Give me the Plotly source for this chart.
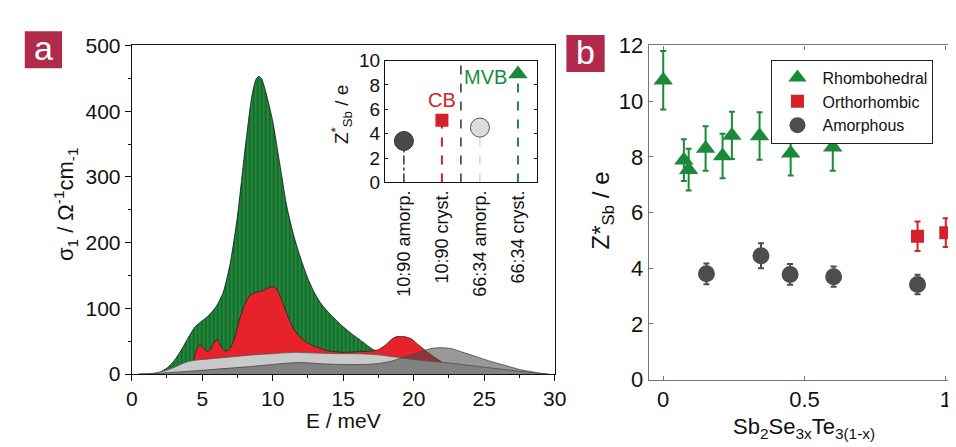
import plotly.graph_objects as go

W, H = 956, 447
FONT = "Liberation Sans, Arial, sans-serif"

# ---------------- Panel a: optical conductivity spectra ----------------
E_green = [1.0, 1.5, 2.0, 2.5, 3.0, 3.5, 4.0, 4.5, 5.0, 5.5, 6.0, 6.5, 7.0, 7.5, 8.0, 8.5, 8.8, 9.0,
           9.2, 9.5, 10.0, 10.5, 11.0, 11.5, 12.0, 12.5, 13.0, 13.5, 14.0, 14.5, 15.0, 15.5, 16.0,
           16.5, 17.0, 17.5, 18.0, 19.0, 20.0, 21.0, 22.0, 24.0, 26.0, 28.0]
s_green = [0, 0.5, 3, 9, 20, 36, 55, 72, 81, 90, 103, 125, 170, 240, 335, 420, 448, 453,
           450, 430, 385, 320, 255, 210, 175, 145, 122, 105, 93, 82, 72, 63, 55,
           47, 39, 33, 28, 22, 18, 14, 10, 5, 2, 0]

E_red = [4.2, 4.4, 4.65, 4.85, 5.05, 5.3, 5.55, 5.8, 6.05, 6.25, 6.45, 6.7, 7.0, 7.3, 7.6, 8.0,
         8.4, 8.8, 9.3, 9.7, 10.0, 10.3, 10.6, 11.0, 11.5, 12.0, 12.5, 13.0, 13.5, 14.0, 15.0,
         16.0, 17.0, 17.5, 18.0, 18.5, 18.8, 19.3, 19.8, 20.2, 20.6, 21.0, 21.5, 22.0, 22.4]
s_red = [0, 22, 40, 44, 40, 35, 36, 47, 53, 46, 38, 35, 40, 55, 80, 105,
         120, 124, 127, 131, 133, 129, 115, 92, 68, 55, 47, 42, 38, 35, 33,
         34, 35, 37, 44, 54, 57, 57, 54, 47, 40, 33, 25, 18, 0]

E_lgray = [0.5, 1.0, 1.5, 2.0, 2.5, 3.0, 3.5, 4.0, 4.5, 5.5, 7.0, 8.5, 10.0, 11.5, 13.0, 14.5,
           16.0, 17.0, 18.0, 19.0, 20.0, 21.0, 22.0, 23.0, 24.0, 25.0, 26.0, 27.0, 28.0, 29.0, 29.5]
s_lgray = [0, 0.3, 1, 3, 6, 10, 15, 19, 21, 23, 26, 29, 31, 33, 32, 31,
           31, 30, 28, 25, 22, 20, 18, 15.5, 13, 10.5, 8, 5.5, 3, 1, 0]

E_dgray = [0.5, 1.5, 2.5, 4.0, 5.5, 7.0, 8.5, 10.0, 11.0, 11.8, 12.5, 13.5, 15.0, 16.5, 17.5,
           18.5, 19.5, 20.5, 21.3, 22.0, 22.7, 23.5, 24.5, 25.5, 26.5, 27.5, 28.5, 29.2, 29.6]
s_dgray = [0, 0.5, 2, 4, 6.5, 9, 11.5, 14.5, 16.5, 17.5, 17, 15.5, 14.5, 14.5, 16,
           20, 27, 34, 39, 40, 38.5, 33, 26, 19, 13, 7, 3, 0.5, 0]

# ---------------- Inset: Born effective charge ----------------
inset_cats = ["10:90 amorp.", "10:90 cryst.", "66:34 amorp.", "66:34 cryst."]
inset_vals = [3.4, 5.1, 4.5, 8.9]

# ---------------- Panel b: Z* vs composition ----------------
x_rh = [0.0, 0.073, 0.09, 0.15, 0.21, 0.243, 0.341, 0.451, 0.60]
z_rh = [10.75, 7.88, 7.54, 8.3, 8.03, 8.77, 8.75, 8.13, 8.35]
e_rh = [1.05, 0.75, 0.75, 0.8, 0.8, 0.85, 0.85, 0.8, 0.85]

x_or = [0.90, 1.0]
z_or = [5.15, 5.28]
e_or = [0.53, 0.52]

x_am = [0.153, 0.346, 0.449, 0.603, 0.90]
z_am = [3.8, 4.45, 3.78, 3.7, 3.42]
e_am = [0.37, 0.45, 0.37, 0.36, 0.35]

fig = go.Figure()

common_a = dict(xaxis="x", yaxis="y", mode="lines", showlegend=False, hoverinfo="skip",
                line_shape="spline")
fig.add_trace(go.Scatter(x=E_green, y=s_green, fill="tozeroy", **common_a,
                         line=dict(color="#111", width=0.8, smoothing=0.6),
                         fillcolor="#1f8a3a",
                         fillpattern=dict(shape="|", size=4, solidity=0.3,
                                          fgcolor="#0a1f0e", bgcolor="#1f8a3a")))
fig.add_trace(go.Scatter(x=E_red, y=s_red, fill="tozeroy", **common_a,
                         line=dict(color="#222", width=0.8, smoothing=0.5),
                         fillcolor="#e8222a"))
fig.add_trace(go.Scatter(x=E_lgray, y=s_lgray, fill="tozeroy", **common_a,
                         line=dict(color="#555", width=0.8, smoothing=0.6),
                         fillcolor="#c9c9c9"))
fig.add_trace(go.Scatter(x=E_dgray, y=s_dgray, fill="tozeroy", **common_a,
                         line=dict(color="#444", width=0.8, smoothing=0.6),
                         fillcolor="rgba(70,70,70,0.55)"))

# inset stems
stem_styles = [dict(color="#333", width=1.5, dash="dashdot"),
               dict(color="#d42027", width=2, dash="dash"),
               dict(color="#d8b8b8", width=1, dash="dash"),
               dict(color="#1a8a3a", width=2, dash="dash")]
for i, (c, v) in enumerate(zip(inset_cats, inset_vals)):
    fig.add_trace(go.Scatter(x=[i, i], y=[0, v], xaxis="x2", yaxis="y2", mode="lines",
                             line=stem_styles[i], showlegend=False, hoverinfo="skip"))
inset_markers = [dict(symbol="circle", size=19, color="#4a4a4a", line=dict(color="#333", width=1)),
                 dict(symbol="square", size=13, color="#d42027", line=dict(width=0)),
                 dict(symbol="circle", size=19, color="#dcdcdc", line=dict(color="#555", width=1)),
                 dict(symbol="triangle-up", size=17, color="#1a8a3a", line=dict(width=0))]
for i, v in enumerate(inset_vals):
    fig.add_trace(go.Scatter(x=[i], y=[v], xaxis="x2", yaxis="y2", mode="markers",
                             marker=inset_markers[i], showlegend=False, hoverinfo="skip"))

# panel b
fig.add_trace(go.Scatter(x=x_rh, y=z_rh, xaxis="x3", yaxis="y3", mode="markers", name="Rhombohedral",
                         marker=dict(symbol="triangle-up", size=17, color="#1a8a3a"),
                         error_y=dict(type="data", array=e_rh, color="#1a8a3a", thickness=2, width=3)))
fig.add_trace(go.Scatter(x=x_or, y=z_or, xaxis="x3", yaxis="y3", mode="markers", name="Orthorhombic",
                         marker=dict(symbol="square", size=13, color="#d42027"),
                         error_y=dict(type="data", array=e_or, color="#d42027", thickness=2, width=3)))
fig.add_trace(go.Scatter(x=x_am, y=z_am, xaxis="x3", yaxis="y3", mode="markers", name="Amorphous",
                         marker=dict(symbol="circle", size=17, color="#4d4d4d"),
                         error_y=dict(type="data", array=e_am, color="#4d4d4d", thickness=2, width=3)))

def px(x):
    return x / W

def py(y):
    return (H - y) / H

tickfont_a = dict(family=FONT, size=21, color="#111")
fig.update_layout(
    width=W, height=H, margin=dict(l=0, r=0, t=0, b=0),
    paper_bgcolor="white", plot_bgcolor="rgba(0,0,0,0)",
    font=dict(family=FONT, color="#111"),
    xaxis=dict(domain=[px(120), px(551)], range=[0, 30], dtick=5, ticks="outside", ticklen=6,
               tickcolor="#111", showline=True, linecolor="#111", linewidth=1, mirror=True,
               showgrid=False, zeroline=False, tickfont=tickfont_a,
               minor=dict(dtick=2.5, ticks="outside", ticklen=3, tickcolor="#111"),
               anchor="y"),
    yaxis=dict(domain=[py(375), py(27)], range=[0, 500], dtick=100, ticks="outside", ticklen=6,
               tickcolor="#111", showline=True, linecolor="#111", linewidth=1, mirror=True,
               showgrid=False, zeroline=False, tickfont=tickfont_a,
               minor=dict(dtick=50, ticks="outside", ticklen=3, tickcolor="#111"),
               anchor="x"),
    xaxis2=dict(domain=[px(378), px(533)], range=[-0.5, 3.5], tickmode="array",
                tickvals=list(range(len(inset_cats))), ticktext=inset_cats, tickangle=-90,
                ticks="", showline=True, linecolor="#111", linewidth=1, mirror=True,
                showgrid=False, zeroline=False, tickfont=dict(family=FONT, size=18, color="#111"),
                anchor="y2"),
    yaxis2=dict(domain=[py(172), py(43)], range=[0, 10], dtick=2, ticks="inside", ticklen=3,
                tickcolor="#111", showline=True, linecolor="#111", linewidth=1, mirror="ticks",
                showgrid=False, zeroline=False, tickfont=dict(family=FONT, size=19, color="#111"),
                anchor="x2"),
    xaxis3=dict(domain=[px(647), 1.0], range=[-0.051, 1.022], tickvals=[0, 0.5, 1],
                ticktext=["0", "0.5", "1"], ticks="inside", ticklen=4, tickcolor="#777",
                showline=True, linecolor="#777", linewidth=1.2, mirror="ticks",
                showgrid=False, zeroline=False, tickfont=dict(family=FONT, size=22, color="#111"),
                anchor="y3"),
    yaxis3=dict(domain=[py(381), py(27)], range=[0, 12], dtick=2, ticks="inside", ticklen=4,
                tickcolor="#777", showline=True, linecolor="#777", linewidth=1.2, mirror="ticks",
                showgrid=False, zeroline=False, tickfont=dict(family=FONT, size=22, color="#111"),
                anchor="x3"),
    legend=dict(x=px(772), y=py(42), xanchor="left", yanchor="top", bgcolor="white",
                bordercolor="#222", borderwidth=1, font=dict(family=FONT, size=16, color="#111"),
                itemwidth=40, tracegroupgap=2),
)

shapes = [
    dict(type="rect", xref="paper", yref="paper", x0=px(11), x1=px(49), y0=py(51), y1=py(12),
         fillcolor="#b02a4c", line=dict(width=0)),
    dict(type="rect", xref="paper", yref="paper", x0=px(563), x1=px(602), y0=py(55), y1=py(16),
         fillcolor="#b02a4c", line=dict(width=0)),
    dict(type="line", xref="x2", yref="y2", x0=1.5, x1=1.5, y0=0, y1=10,
         line=dict(color="#111", width=1.3, dash="dash")),
]
fig.update_layout(shapes=shapes)

ann = [
    dict(text="a", x=px(30), y=py(30), font=dict(size=34, color="white")),
    dict(text="b", x=px(582.5), y=py(34), font=dict(size=34, color="white")),
    dict(text="σ<sub>1</sub> / Ω<sup>-1</sup>cm<sub>-1</sub>", x=px(52), y=py(195), textangle=-90,
         font=dict(size=22)),
    dict(text="E / meV", x=px(336), y=py(424), font=dict(size=21)),
    dict(text="Z<sup>*</sup><sub>Sb</sub> / e", x=px(334), y=py(100), textangle=-90,
         font=dict(size=19)),
    dict(text="CB", x=px(436), y=py(85), font=dict(size=20, color="#d42027")),
    dict(text="MVB", x=px(481), y=py(60), font=dict(size=20, color="#1a8a3a")),
    dict(text="Z*<sub>Sb</sub> / e", x=px(600), y=py(202), textangle=-90, font=dict(size=24)),
    dict(text="Sb<sub>2</sub>Se<sub>3x</sub>Te<sub>3(1-x)</sub>", x=px(805), y=py(432),
         font=dict(size=22)),
]
for a in ann:
    a.update(xref="paper", yref="paper", showarrow=False, xanchor="center", yanchor="middle")
    a["font"].setdefault("family", FONT)
    a["font"].setdefault("color", "#111")
fig.update_layout(annotations=ann)

fig.write_html("out.html")
